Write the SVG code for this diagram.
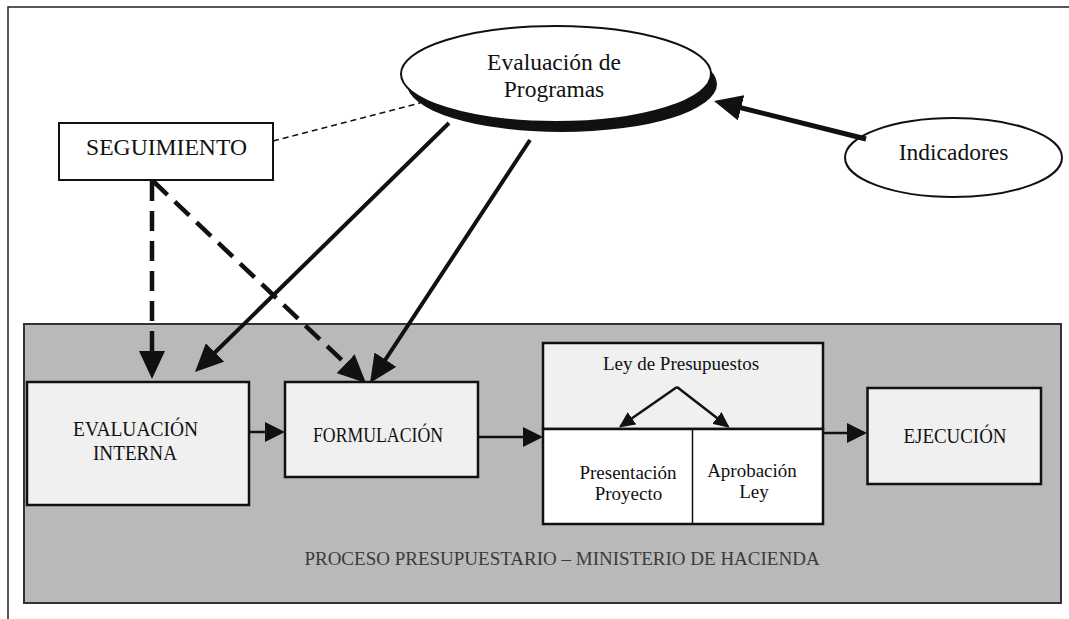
<svg xmlns="http://www.w3.org/2000/svg" width="1069" height="619" viewBox="0 0 1069 619">
<defs>
<style>
.t{font-family:"Liberation Serif","Times New Roman",serif;fill:#111;text-anchor:middle}
.box{fill:#f0f0f0;stroke:#111;stroke-width:2.5}
.thick{fill:none;stroke:#111;stroke-width:4}
.dash{fill:none;stroke:#111;stroke-width:4.5;stroke-dasharray:20 10}
.thin{fill:none;stroke:#111;stroke-width:2.5}
</style>
<marker id="big" markerUnits="userSpaceOnUse" viewBox="0 0 28 26" refX="22" refY="13" markerWidth="28" markerHeight="26" orient="auto">
<path d="M0,0 L28,13 L0,26 Z" fill="#111"/>
</marker>
<marker id="mid" markerUnits="userSpaceOnUse" viewBox="0 0 20 20" refX="17" refY="10" markerWidth="20" markerHeight="20" orient="auto">
<path d="M0,0 L20,10 L0,20 Z" fill="#111"/>
</marker>
<marker id="small" markerUnits="userSpaceOnUse" viewBox="0 0 16 15" refX="14" refY="7.5" markerWidth="16" markerHeight="15" orient="auto">
<path d="M0,0 L16,7.5 L0,15 Z" fill="#111"/>
</marker>
</defs>
<rect width="1069" height="619" fill="#fff"/>
<path d="M8,619 L8,7 L1069,7" fill="none" stroke="#222" stroke-width="1.5"/>

<g id="panel">
<rect x="24" y="324" width="1037" height="279" fill="#b9b9b9" stroke="#333" stroke-width="2"/>
<text class="t" x="562" y="565" font-size="19" style="fill:#3a3a3a">PROCESO PRESUPUESTARIO – MINISTERIO DE HACIENDA</text>
</g>

<g id="evaluacion-programas">
<ellipse cx="562" cy="84" rx="155" ry="48" fill="#111"/>
<ellipse cx="556" cy="74" rx="155" ry="48" fill="#fff" stroke="#111" stroke-width="2"/>
<text class="t" x="554" y="70" font-size="23.5">Evaluación de</text>
<text class="t" x="554" y="97" font-size="23.5">Programas</text>
</g>

<g id="seguimiento">
<rect x="59" y="123" width="214" height="57" fill="#fff" stroke="#111" stroke-width="2"/>
<text class="t" x="166.5" y="155" font-size="24" textLength="161" lengthAdjust="spacingAndGlyphs">SEGUIMIENTO</text>
</g>

<g id="indicadores">
<ellipse cx="953.5" cy="157.5" rx="108.5" ry="39.5" fill="#fff" stroke="#111" stroke-width="2"/>
<text class="t" x="953.5" y="160" font-size="23.5">Indicadores</text>
</g>

<g id="evaluacion-interna">
<rect class="box" x="27" y="382" width="222" height="123"/>
<text class="t" x="135.5" y="436" font-size="20" textLength="125" lengthAdjust="spacingAndGlyphs">EVALUACIÓN</text>
<text class="t" x="135" y="460" font-size="20" textLength="84" lengthAdjust="spacingAndGlyphs">INTERNA</text>
</g>

<g id="formulacion">
<rect class="box" x="285" y="382" width="193" height="95"/>
<text class="t" x="378" y="442" font-size="20" textLength="130" lengthAdjust="spacingAndGlyphs">FORMULACIÓN</text>
</g>

<g id="ley-presupuestos">
<rect class="box" x="543" y="343" width="280" height="86"/>
<rect x="543" y="429" width="280" height="95" fill="#fff" stroke="#111" stroke-width="2.5"/>
<line x1="692.5" y1="429" x2="692.5" y2="524" stroke="#111" stroke-width="1.5"/>
<text class="t" x="681" y="370" font-size="19">Ley de Presupuestos</text>
<text class="t" x="628" y="479" font-size="19">Presentación</text>
<text class="t" x="628.5" y="500" font-size="19">Proyecto</text>
<text class="t" x="752" y="477" font-size="19">Aprobación</text>
<text class="t" x="754" y="498" font-size="19">Ley</text>
<path class="thin" d="M677,387 L620.5,426.3" marker-end="url(#small)"/>
<path class="thin" d="M677,387 L728,426.5" marker-end="url(#small)"/>
</g>

<g id="ejecucion">
<rect class="box" x="867.5" y="388" width="173.5" height="96"/>
<text class="t" x="955" y="443" font-size="20" textLength="103" lengthAdjust="spacingAndGlyphs">EJECUCIÓN</text>
</g>

<g id="connectors">
<path d="M273,141 L420,103" fill="none" stroke="#111" stroke-width="1.5" stroke-dasharray="6 4"/>
<path class="thick" d="M449,123 L199.3,367.8" marker-end="url(#big)"/>
<path class="thick" d="M530,140 L373.3,378" marker-end="url(#big)"/>
<path class="dash" d="M152,181 L152,373" marker-end="url(#big)"/>
<path class="dash" d="M153,181 L361.6,378.9" marker-end="url(#big)"/>
<path d="M866,139 L719.8,102.5" fill="none" stroke="#111" stroke-width="5" marker-end="url(#big)"/>
<path class="thin" d="M249,432 L282,432" marker-end="url(#mid)"/>
<path class="thin" d="M478,437 L540,437" marker-end="url(#mid)"/>
<path class="thin" d="M823,433 L864,433" marker-end="url(#mid)"/>
</g>
</svg>
